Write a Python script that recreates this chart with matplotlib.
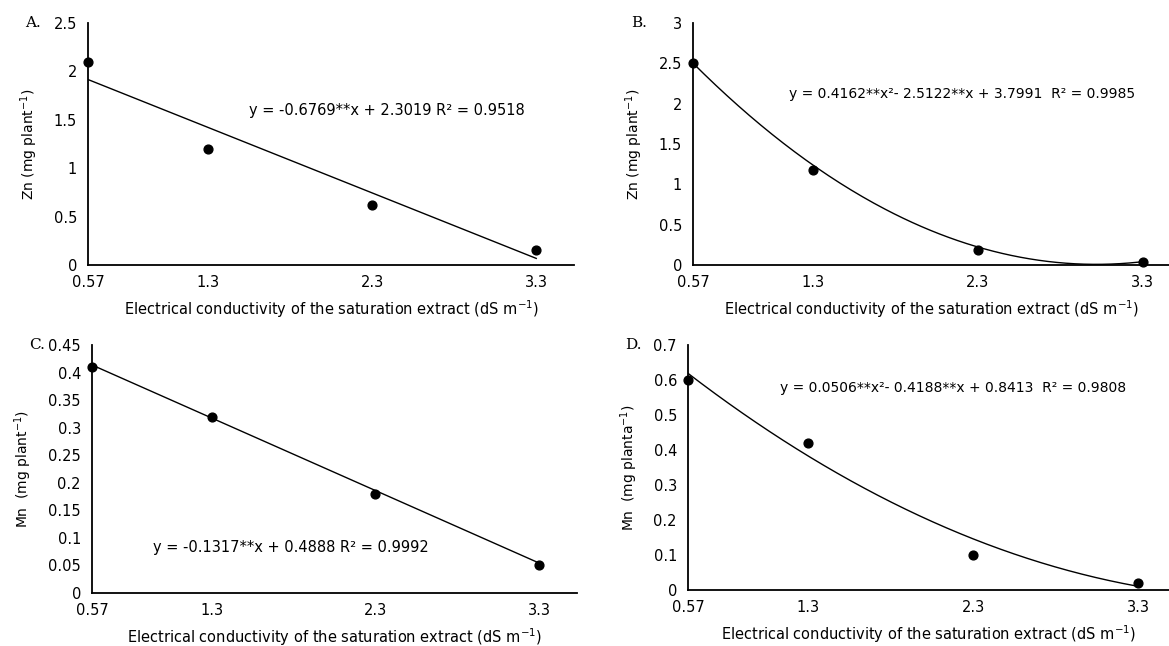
import numpy as np
import matplotlib.pyplot as plt

plt.rcParams['font.family'] = ['DejaVu Sans']

ec = [0.57, 1.3, 2.3, 3.3]
ec_labels = ['0.57', '1.3', '2.3', '3.3']

zn_a = [2.1, 1.2, 0.62, 0.16]
zn_b = [2.5, 1.18, 0.18, 0.04]
mn_c = [0.41, 0.32, 0.18, 0.05]
mn_d = [0.60, 0.42, 0.10, 0.02]

coef_a = [-0.6769, 2.3019]
coef_b = [0.4162, -2.5122, 3.7991]
coef_c = [-0.1317, 0.4888]
coef_d = [0.0506, -0.4188, 0.8413]

eq_a = 'y = -0.6769**x + 2.3019 R² = 0.9518'
eq_b = 'y = 0.4162**x²- 2.5122**x + 3.7991  R² = 0.9985'
eq_c = 'y = -0.1317**x + 0.4888 R² = 0.9992'
eq_d = 'y = 0.0506**x²- 0.4188**x + 0.8413  R² = 0.9808'

xlabel = 'Electrical conductivity of the saturation extract (dS m$^{-1}$)'

fig = plt.figure(figsize=(11.69, 6.46), dpi=100)

W, H = 1169, 646
def box(l, r, t, b):
    return [l / W, 1 - b / H, (r - l) / W, (b - t) / H]

panels = [
    dict(rect=box(88, 574, 23, 265), y=zn_a, c=coef_a, xmax=3.53, ylim=2.5, step=0.5,
         ylab='Zn (mg plant$^{-1}$)', eq=eq_a, eqfs=10.5, eqpos=(1.55, 1.6), tag='A.'),
    dict(rect=box(693, 1169, 23, 265), y=zn_b, c=coef_b, xmax=3.46, ylim=3, step=0.5,
         ylab='Zn (mg plant$^{-1}$)', eq=eq_b, eqfs=10, eqpos=(1.15, 2.12), tag='B.'),
    dict(rect=box(92, 577, 345, 593), y=mn_c, c=coef_c, xmax=3.53, ylim=0.45, step=0.05,
         ylab='Mn  (mg plant$^{-1}$)', eq=eq_c, eqfs=10.5, eqpos=(0.94, 0.082), tag='C.'),
    dict(rect=box(688, 1169, 345, 590), y=mn_d, c=coef_d, xmax=3.485, ylim=0.7, step=0.1,
         ylab='Mn  (mg planta$^{-1}$)', eq=eq_d, eqfs=10, eqpos=(1.13, 0.577), tag='D.'),
]

xx = np.linspace(ec[0], ec[-1], 200)
for p in panels:
    ax = fig.add_axes(p['rect'])
    ax.plot(xx, np.polyval(p['c'], xx), color='black', lw=1)
    ax.scatter(ec, p['y'], color='black', s=40, zorder=3, clip_on=False)
    ax.set_xlim(0.57, p['xmax'])
    ax.set_ylim(0, p['ylim'])
    ticks = np.arange(0, p['ylim'] + p['step'] / 2, p['step'])
    ax.set_yticks(ticks)
    ax.set_yticklabels(['%g' % round(t, 2) for t in ticks])
    ax.set_xticks(ec)
    ax.set_xticklabels(ec_labels)
    ax.tick_params(axis='y', length=0, labelsize=10.5, pad=8)
    ax.tick_params(axis='x', length=0, labelsize=10.5, pad=7)
    ax.spines['top'].set_visible(False)
    ax.spines['right'].set_visible(False)
    ax.spines['left'].set_linewidth(1.3)
    ax.spines['bottom'].set_linewidth(1.3)
    ax.set_ylabel(p['ylab'], fontsize=10, labelpad=10)
    ax.set_xlabel(xlabel, fontsize=10.5, labelpad=6)
    ax.text(p['eqpos'][0], p['eqpos'][1], p['eq'], fontsize=p['eqfs'], va='center')
    ax.text(-0.13, 1.0, p['tag'], transform=ax.transAxes, family='DejaVu Serif',
            fontsize=11, va='center')

fig.savefig('out.png', dpi=100)
